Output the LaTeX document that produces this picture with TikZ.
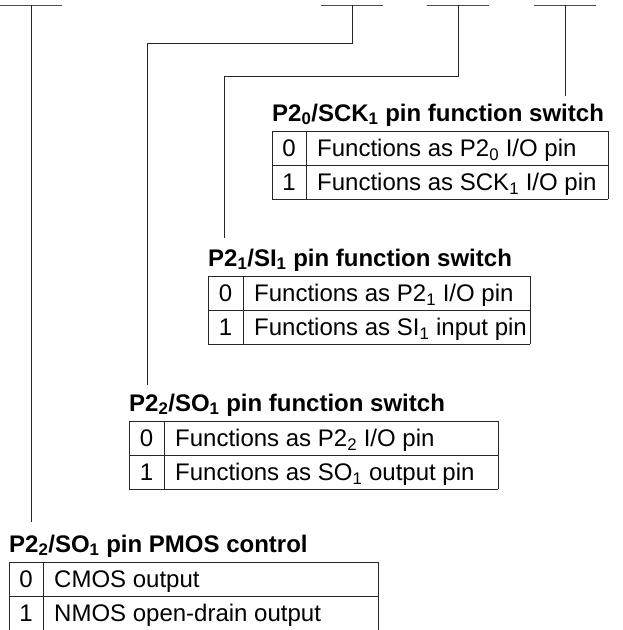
\documentclass[tikz,border=0pt]{standalone}
\usepackage{fontspec}
\setmainfont{Liberation Sans}
\newcommand\regtab[9]{%
  % #1 name, #2 left, #3 top, #4 column divider, #5 right, #6 title, #7 row 0, #8 row 1, #9 bottom line (1/0)
  \node[tabtitle] (#1-t) at (#2,#3-10) {#6};
  \draw[tbl] (#2,#3+68) -- (#2,#3) -- (#5,#3) -- (#5,#3+68);
  \draw[tbl] (#2,#3+34) -- (#5,#3+34);
  \draw[tbl] (#4,#3) -- (#4,#3+68);
  \ifnum#9=1 \draw[tbl] (#2,#3+68) -- (#5,#3+68);\fi
  \node[celltext,anchor=base] (#1-d0) at ({(#2+#4)/2},#3+25.5) {0};
  \node[celltext,anchor=base] (#1-d1) at ({(#2+#4)/2},#3+59.5) {1};
  \node[celltext,anchor=base west] (#1-r0) at (#4+11,#3+25.5) {#7};
  \node[celltext,anchor=base west] (#1-r1) at (#4+11,#3+59.5) {#8};
}
\begin{document}
\begin{tikzpicture}[x=1pt,y=-1pt,
  tabtitle/.style={anchor=base west,inner sep=0pt,font=\fontsize{24}{28}\selectfont\bfseries},
  celltext/.style={inner sep=0pt,font=\fontsize{24}{28}\selectfont},
  tbl/.style={draw=black!85,line width=0.9pt},
  wire/.style={draw=black!85,line width=0.9pt},
  bit/.style={draw=black!70,line width=0.9pt}]
\useasboundingbox (0,0) rectangle (622,630);

% register bit marks
\coordinate (b0) at (31,5);
\coordinate (b3) at (352,5);
\coordinate (b4) at (458,5);
\coordinate (b5) at (565,5);
\foreach \c in {b0,b3,b4,b5}{
  \draw[bit] ([xshift=-31pt]\c) -- ([xshift=31pt]\c);
}

% tables
\regtab{sck}{272}{131}{306}{608}{P2\textsubscript{0}/SCK\textsubscript{1} pin function switch}{Functions as P2\textsubscript{0} I/O pin}{Functions as SCK\textsubscript{1} I/O pin}{1}
\regtab{si}{208}{276}{243}{530}{P2\textsubscript{1}/SI\textsubscript{1} pin function switch}{Functions as P2\textsubscript{1} I/O pin}{Functions as SI\textsubscript{1} input pin}{1}
\regtab{so}{129}{421}{164}{498}{P2\textsubscript{2}/SO\textsubscript{1} pin function switch}{Functions as P2\textsubscript{2} I/O pin}{Functions as SO\textsubscript{1} output pin}{1}
\regtab{pm}{9}{562}{43}{378}{P2\textsubscript{2}/SO\textsubscript{1} pin PMOS control}{CMOS output}{NMOS open-drain output}{0}

% connector ends
\coordinate (e5) at (565,96);
\coordinate (e4) at (224,238);
\coordinate (e3) at (147,385);
\coordinate (e0) at (31,522);

\draw[wire] (b5) -- (e5);
\draw[wire] (b4) |- (224,76) -- (e4);
\draw[wire] (b3) |- (147,43) -- (e3);
\draw[wire] (b0) -- (e0);
\end{tikzpicture}
\end{document}
